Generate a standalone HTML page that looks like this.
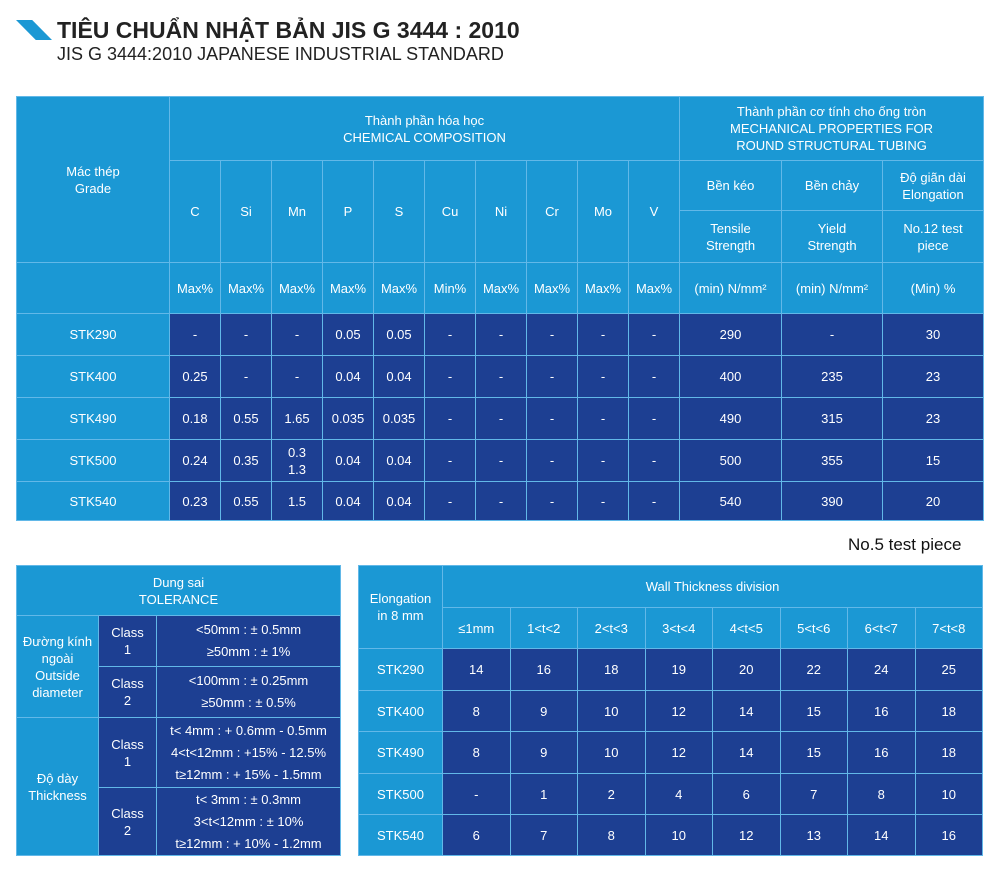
<!DOCTYPE html>
<html><head><meta charset="utf-8"><style>
body{margin:0;width:1000px;height:887px;background:#fff;position:relative;font-family:"Liberation Sans",sans-serif;overflow:hidden}
table{position:absolute;border-collapse:collapse;table-layout:fixed;color:#fff;font-size:13px}
td{border:1.5px solid #62b8e8;text-align:center;vertical-align:middle;padding:0;line-height:17px;overflow:hidden}
.l{background:#1b98d4}
.d{background:#1d3f92}
</style></head><body>
<div style="position:absolute;left:16px;top:20px;width:36px;height:20px;background:#1b98d4;clip-path:polygon(0 0,45% 0,100% 100%,55% 100%)"></div>
<div style="position:absolute;left:57px;top:17px;font-size:23px;font-weight:bold;color:#222">TIÊU CHUẨN NHẬT BẢN JIS G 3444 : 2010</div>
<div style="position:absolute;left:57px;top:44px;font-size:18px;color:#222">JIS G 3444:2010 JAPANESE INDUSTRIAL STANDARD</div>

<table style="left:16px;top:96px;width:967px">
<colgroup><col style="width:153px"><col span="10" style="width:51px"><col style="width:102px"><col style="width:101px"><col style="width:101px"></colgroup>
<tr style="height:64px"><td class="l" rowspan="3">Mác thép<br>Grade</td><td class="l" colspan="10">Thành phần hóa học<br>CHEMICAL COMPOSITION</td><td class="l" colspan="3">Thành phần cơ tính cho ống tròn<br>MECHANICAL PROPERTIES FOR<br>ROUND STRUCTURAL TUBING</td></tr>
<tr style="height:50px"><td class="l" rowspan="2">C</td><td class="l" rowspan="2">Si</td><td class="l" rowspan="2">Mn</td><td class="l" rowspan="2">P</td><td class="l" rowspan="2">S</td><td class="l" rowspan="2">Cu</td><td class="l" rowspan="2">Ni</td><td class="l" rowspan="2">Cr</td><td class="l" rowspan="2">Mo</td><td class="l" rowspan="2">V</td><td class="l">Bền kéo</td><td class="l">Bền chảy</td><td class="l">Độ giãn dài<br>Elongation</td></tr>
<tr style="height:52px"><td class="l">Tensile<br>Strength</td><td class="l">Yield<br>Strength</td><td class="l">No.12 test<br>piece</td></tr>
<tr style="height:51px"><td class="l"></td><td class="l">Max%</td><td class="l">Max%</td><td class="l">Max%</td><td class="l">Max%</td><td class="l">Max%</td><td class="l">Min%</td><td class="l">Max%</td><td class="l">Max%</td><td class="l">Max%</td><td class="l">Max%</td><td class="l">(min) N/mm²</td><td class="l">(min) N/mm²</td><td class="l">(Min) %</td></tr>
<tr style="height:42px"><td class="l">STK290</td><td class="d">-</td><td class="d">-</td><td class="d">-</td><td class="d">0.05</td><td class="d">0.05</td><td class="d">-</td><td class="d">-</td><td class="d">-</td><td class="d">-</td><td class="d">-</td><td class="d">290</td><td class="d">-</td><td class="d">30</td></tr>
<tr style="height:42px"><td class="l">STK400</td><td class="d">0.25</td><td class="d">-</td><td class="d">-</td><td class="d">0.04</td><td class="d">0.04</td><td class="d">-</td><td class="d">-</td><td class="d">-</td><td class="d">-</td><td class="d">-</td><td class="d">400</td><td class="d">235</td><td class="d">23</td></tr>
<tr style="height:42px"><td class="l">STK490</td><td class="d">0.18</td><td class="d">0.55</td><td class="d">1.65</td><td class="d">0.035</td><td class="d">0.035</td><td class="d">-</td><td class="d">-</td><td class="d">-</td><td class="d">-</td><td class="d">-</td><td class="d">490</td><td class="d">315</td><td class="d">23</td></tr>
<tr style="height:42px"><td class="l">STK500</td><td class="d">0.24</td><td class="d">0.35</td><td class="d">0.3<br>1.3</td><td class="d">0.04</td><td class="d">0.04</td><td class="d">-</td><td class="d">-</td><td class="d">-</td><td class="d">-</td><td class="d">-</td><td class="d">500</td><td class="d">355</td><td class="d">15</td></tr>
<tr style="height:39px"><td class="l">STK540</td><td class="d">0.23</td><td class="d">0.55</td><td class="d">1.5</td><td class="d">0.04</td><td class="d">0.04</td><td class="d">-</td><td class="d">-</td><td class="d">-</td><td class="d">-</td><td class="d">-</td><td class="d">540</td><td class="d">390</td><td class="d">20</td></tr>
</table>

<div style="position:absolute;left:848px;top:535px;font-size:17px;color:#111">No.5 test piece</div>

<table style="left:16px;top:565px;width:324px">
<colgroup><col style="width:82px"><col style="width:58px"><col style="width:184px"></colgroup>
<tr style="height:50px"><td class="l" colspan="3">Dung sai<br>TOLERANCE</td></tr>
<tr style="height:51px"><td class="l" rowspan="2">Đường kính<br>ngoài<br>Outside<br>diameter</td><td class="d">Class<br>1</td><td class="d" style="line-height:22px">&lt;50mm : ± 0.5mm<br>≥50mm : ± 1%</td></tr>
<tr style="height:51px"><td class="d">Class<br>2</td><td class="d" style="line-height:22px">&lt;100mm : ± 0.25mm<br>≥50mm : ± 0.5%</td></tr>
<tr style="height:70px"><td class="l" rowspan="2">Độ dày<br>Thickness</td><td class="d">Class<br>1</td><td class="d" style="line-height:22px">t&lt; 4mm : + 0.6mm - 0.5mm<br>4&lt;t&lt;12mm : +15% - 12.5%<br>t≥12mm : + 15% - 1.5mm</td></tr>
<tr style="height:68px"><td class="d">Class<br>2</td><td class="d" style="line-height:22px">t&lt; 3mm : ± 0.3mm<br>3&lt;t&lt;12mm : ± 10%<br>t≥12mm : + 10% - 1.2mm</td></tr>
</table>

<table style="left:358px;top:565px;width:624px">
<colgroup><col style="width:84px"><col span="8" style="width:67.5px"></colgroup>
<tr style="height:42px"><td class="l" rowspan="2">Elongation<br>in 8 mm</td><td class="l" colspan="8">Wall Thickness division</td></tr>
<tr style="height:41px"><td class="l">≤1mm</td><td class="l">1&lt;t&lt;2</td><td class="l">2&lt;t&lt;3</td><td class="l">3&lt;t&lt;4</td><td class="l">4&lt;t&lt;5</td><td class="l">5&lt;t&lt;6</td><td class="l">6&lt;t&lt;7</td><td class="l">7&lt;t&lt;8</td></tr>
<tr style="height:42px"><td class="l">STK290</td><td class="d">14</td><td class="d">16</td><td class="d">18</td><td class="d">19</td><td class="d">20</td><td class="d">22</td><td class="d">24</td><td class="d">25</td></tr>
<tr style="height:41px"><td class="l">STK400</td><td class="d">8</td><td class="d">9</td><td class="d">10</td><td class="d">12</td><td class="d">14</td><td class="d">15</td><td class="d">16</td><td class="d">18</td></tr>
<tr style="height:42px"><td class="l">STK490</td><td class="d">8</td><td class="d">9</td><td class="d">10</td><td class="d">12</td><td class="d">14</td><td class="d">15</td><td class="d">16</td><td class="d">18</td></tr>
<tr style="height:41px"><td class="l">STK500</td><td class="d">-</td><td class="d">1</td><td class="d">2</td><td class="d">4</td><td class="d">6</td><td class="d">7</td><td class="d">8</td><td class="d">10</td></tr>
<tr style="height:41px"><td class="l">STK540</td><td class="d">6</td><td class="d">7</td><td class="d">8</td><td class="d">10</td><td class="d">12</td><td class="d">13</td><td class="d">14</td><td class="d">16</td></tr>
</table>
</body></html>
